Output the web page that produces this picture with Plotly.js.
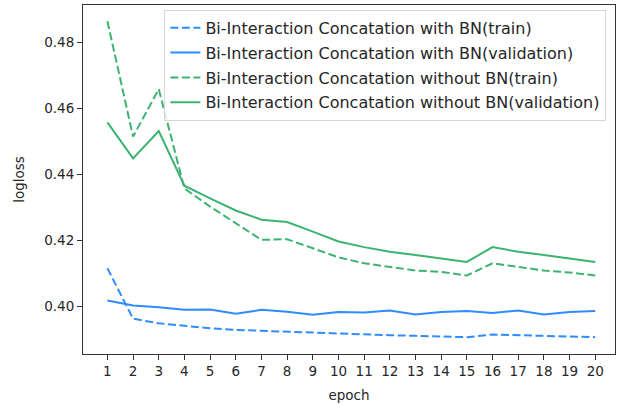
<!DOCTYPE html>
<html>
<head>
<meta charset="utf-8">
<script src="https://cdn.plot.ly/plotly-3.0.1.min.js"></script>
<style>html,body{margin:0;padding:0;background:#fff}#chart{width:619px;height:404px}</style>
</head>
<body>
<div id="chart"></div>
<script>
const epochs = [1,2,3,4,5,6,7,8,9,10,11,12,13,14,15,16,17,18,19,20];
const withBNTrain = [0.4115,0.3962,0.3948,0.3940,0.3933,0.3928,0.3925,0.3922,0.3919,0.3916,0.3914,0.3912,0.3910,0.3908,0.3906,0.3914,0.3912,0.3910,0.3908,0.3906];
const withBNVal = [0.4017,0.4002,0.3997,0.3989,0.3990,0.3977,0.3989,0.3983,0.3974,0.3982,0.3981,0.3987,0.3975,0.3982,0.3985,0.3979,0.3987,0.3975,0.3982,0.3985];
const withoutBNTrain = [0.4864,0.4514,0.4658,0.4357,0.4302,0.4252,0.4201,0.4203,0.4176,0.4148,0.4130,0.4118,0.4108,0.4104,0.4093,0.4130,0.4118,0.4108,0.4102,0.4093];
const withoutBNVal = [0.4557,0.4448,0.4531,0.4365,0.4327,0.4290,0.4262,0.4255,0.4226,0.4196,0.4179,0.4165,0.4155,0.4144,0.4134,0.4179,0.4165,0.4155,0.4144,0.4134];
const names = [
  'Bi-Interaction Concatation with BN(train)',
  'Bi-Interaction Concatation with BN(validation)',
  'Bi-Interaction Concatation without BN(train)',
  'Bi-Interaction Concatation without BN(validation)'
];
const blue = '#2f8cff', green = '#3cb371';
const series = [withBNTrain, withBNVal, withoutBNTrain, withoutBNVal];
const colors = [blue, blue, green, green];
const dashes = ['8px,3.5px', 'solid', '8px,3.5px', 'solid'];
const traces = series.map((s, i) => ({
  x: epochs, y: s, name: names[i], type: 'scatter', mode: 'lines',
  legendgroup: 'g' + i,
  line: {color: colors[i], width: 2, dash: dashes[i]}
}));
const font = {family: 'DejaVu Sans', size: 13.5, color: '#262626'};
const layout = {
  width: 619, height: 404,
  margin: {l: 83, r: 4, t: 5, b: 50},
  paper_bgcolor: '#fff', plot_bgcolor: '#fff',
  font: font,
  showlegend: true,
  legend: {
    x: 0.153, y: 0.986, xanchor: 'left', yanchor: 'top',
    bgcolor: 'rgba(255,255,255,0.8)', bordercolor: '#d5d5d5', borderwidth: 1,
    font: {family: 'DejaVu Sans', size: 16, color: '#262626'},
    tracegroupgap: 1
  },
  xaxis: {
    range: [0.05, 20.77],
    tickmode: 'array', tickvals: epochs, ticktext: epochs.map(String),
    showgrid: false, zeroline: false,
    showline: true, mirror: true, linecolor: '#333', linewidth: 1,
    ticks: 'outside', ticklen: 5, tickcolor: '#333',
    title: {text: 'epoch', font: font, standoff: 12}
  },
  yaxis: {
    range: [0.3855, 0.4913],
    tickmode: 'array', tickvals: [0.40, 0.42, 0.44, 0.46, 0.48],
    ticktext: ['0.40', '0.42', '0.44', '0.46', '0.48'],
    showgrid: false, zeroline: false,
    showline: true, mirror: true, linecolor: '#333', linewidth: 1,
    ticks: 'outside', ticklen: 5, tickcolor: '#333',
    title: {text: 'logloss', font: font, standoff: 16}
  }
};
Plotly.newPlot('chart', traces, layout, {displayModeBar: false, staticPlot: true});
</script>
</body>
</html>
